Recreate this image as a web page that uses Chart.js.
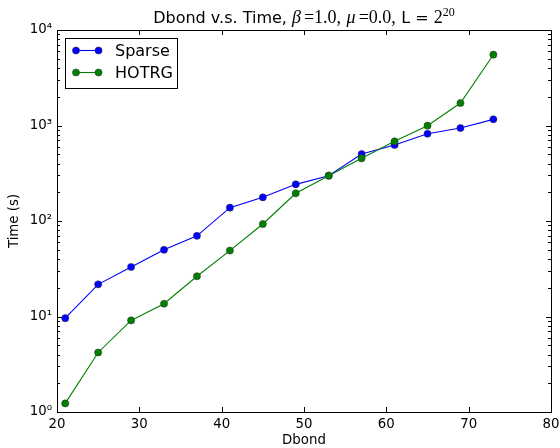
<!DOCTYPE html>
<html>
<head>
<meta charset="utf-8">
<script src="https://cdn.jsdelivr.net/npm/chart.js@4/dist/chart.umd.min.js"></script>
<style>
  html, body { margin: 0; padding: 0; background: #fff; }
</style>
</head>
<body>
<canvas id="timeChart" width="560" height="448"></canvas>
<script>
// values
const dbond = [21, 25, 29, 33, 37, 41, 45, 49, 53, 57, 61, 65, 69, 73];
const sparseTime = [9.6, 21.7, 33, 50, 70, 138, 177, 242, 298, 503, 625, 820, 942, 1160];
const hotrgTime = [1.23, 4.2, 9.1, 13.6, 26.4, 49, 93, 195, 298, 453, 683, 995, 1720, 5510];
const xTicks = [20, 30, 40, 50, 60, 70, 80];
const yTicks = [1, 10, 100, 1000, 10000];

const SANS = "'DejaVu Sans', sans-serif";
const SERIF = "'Liberation Serif', 'DejaVu Serif', serif";
const sup = { "0": "\u2070", "1": "\u00b9", "2": "\u00b2", "3": "\u00b3", "4": "\u2074" };

// frame, inward ticks, legend box and the mathtext-like title
const decorations = {
  id: "decorations",
  afterDraw(chart) {
    const ctx = chart.ctx;
    const { left, right, top, bottom } = chart.chartArea;
    const xs = chart.scales.x;
    const ys = chart.scales.y;
    ctx.save();
    ctx.strokeStyle = "#000";
    ctx.lineWidth = 1;

    ctx.beginPath();
    xTicks.forEach((v) => {
      const px = Math.round(xs.getPixelForValue(v)) + 0.5;
      ctx.moveTo(px, bottom); ctx.lineTo(px, bottom - 5);
      ctx.moveTo(px, top); ctx.lineTo(px, top + 5);
    });
    yTicks.forEach((v) => {
      const py = Math.round(ys.getPixelForValue(v)) + 0.5;
      ctx.moveTo(left, py); ctx.lineTo(left + 5, py);
      ctx.moveTo(right, py); ctx.lineTo(right - 5, py);
    });
    for (let k = 0; k < 4; k++) {
      for (let m = 2; m <= 9; m++) {
        const py = Math.round(ys.getPixelForValue(m * Math.pow(10, k))) + 0.5;
        ctx.moveTo(left, py); ctx.lineTo(left + 3, py);
        ctx.moveTo(right, py); ctx.lineTo(right - 3, py);
      }
    }
    ctx.stroke();
    ctx.strokeRect(Math.round(left) + 0.5, Math.round(top) + 0.5,
      Math.round(right - left), Math.round(bottom - top));

    // legend
    ctx.strokeRect(65.5, 38.5, 112, 50);
    ctx.font = "16px " + SANS;
    ctx.textBaseline = "middle";
    chart.data.datasets.forEach((ds, i) => {
      const y = 50.5 + i * 22;
      ctx.strokeStyle = ds.borderColor;
      ctx.lineWidth = 1.1;
      ctx.beginPath();
      ctx.moveTo(76, y); ctx.lineTo(98.5, y);
      ctx.stroke();
      [76, 98.5].forEach((x) => {
        ctx.beginPath();
        ctx.arc(x, y, 3.6, 0, Math.PI * 2);
        ctx.fillStyle = ds.pointBackgroundColor;
        ctx.fill();
        ctx.lineWidth = 0.5;
        ctx.strokeStyle = "#333";
        ctx.stroke();
      });
      ctx.fillStyle = "#000";
      ctx.fillText(ds.label, 115, y + 1);
    });

    // title
    const parts = [
      { t: "Dbond v.s. Time, ", f: "16px " + SANS, dy: 0, gap: 0 },
      { t: "\u03b2", f: "italic 18px " + SERIF, dy: 0, gap: 3 },
      { t: "=1.0, ", f: "18px " + SERIF, dy: 0, gap: 1 },
      { t: "\u03bc", f: "italic 18px " + SERIF, dy: 0, gap: 3 },
      { t: "=0.0, ", f: "18px " + SERIF, dy: 0, gap: 1 },
      { t: "L = ", f: "16px " + SANS, dy: 0, gap: 0 },
      { t: "2", f: "18px " + SERIF, dy: 0, gap: 0 },
      { t: "20", f: "12px " + SERIF, dy: -7, gap: 0 }
    ];
    ctx.textBaseline = "alphabetic";
    let total = 0;
    parts.forEach((p) => { ctx.font = p.f; p.w = ctx.measureText(p.t).width + p.gap; total += p.w; });
    let x = (left + right) / 2 - total / 2;
    ctx.fillStyle = "#000";
    parts.forEach((p) => {
      ctx.font = p.f;
      ctx.fillText(p.t, x, 23 + p.dy);
      x += p.w;
    });
    ctx.restore();
  }
};

const canvas = document.getElementById("timeChart");
new Chart(canvas, {
  type: "line",
  data: {
    datasets: [
      {
        label: "Sparse",
        data: dbond.map((d, i) => ({ x: d, y: sparseTime[i] })),
        borderColor: "#0000ff",
        backgroundColor: "#0000ff",
        pointBackgroundColor: "#0000ff",
        pointBorderColor: "#333",
        pointBorderWidth: 0.5,
        pointRadius: 3.6,
        borderWidth: 1.1,
        tension: 0,
        order: 1
      },
      {
        label: "HOTRG",
        data: dbond.map((d, i) => ({ x: d, y: hotrgTime[i] })),
        borderColor: "#008000",
        backgroundColor: "#008000",
        pointBackgroundColor: "#008000",
        pointBorderColor: "#333",
        pointBorderWidth: 0.5,
        pointRadius: 3.6,
        borderWidth: 1.1,
        tension: 0,
        order: 0
      }
    ]
  },
  options: {
    responsive: false,
    animation: false,
    layout: { padding: { top: 30, right: 9, left: 0, bottom: 0 } },
    plugins: {
      legend: { display: false },
      tooltip: { enabled: false },
      title: { display: false }
    },
    scales: {
      x: {
        type: "linear",
        min: 20,
        max: 80,
        afterBuildTicks: (s) => { s.ticks = xTicks.map((v) => ({ value: v })); },
        afterFit: (s) => { s.height = 36; s.paddingLeft = 0; s.paddingRight = 0; },
        grid: { display: false, drawTicks: false },
        border: { display: false },
        ticks: {
          color: "#000",
          padding: 5,
          maxRotation: 0,
          font: { family: SANS, size: 13.33 }
        },
        title: {
          display: true,
          text: "Dbond",
          color: "#000",
          font: { family: SANS, size: 13.33, lineHeight: 1 },
          padding: { top: 0, bottom: 1 }
        }
      },
      y: {
        type: "logarithmic",
        min: 1,
        max: 10000,
        afterBuildTicks: (s) => { s.ticks = yTicks.map((v) => ({ value: v })); },
        afterFit: (s) => { s.width = 57; s.paddingTop = 0; s.paddingBottom = 0; },
        grid: { display: false, drawTicks: false },
        border: { display: false },
        ticks: {
          color: "#000",
          padding: 5,
          font: { family: SANS, size: 13.33 },
          callback: (v) => "10" + sup[String(Math.round(Math.log10(v)))]
        },
        title: {
          display: true,
          text: "Time (s)",
          color: "#000",
          font: { family: SANS, size: 13.33, lineHeight: 1 },
          padding: { top: 8, bottom: 0 }
        }
      }
    }
  },
  plugins: [decorations]
});
</script>
</body>
</html>
